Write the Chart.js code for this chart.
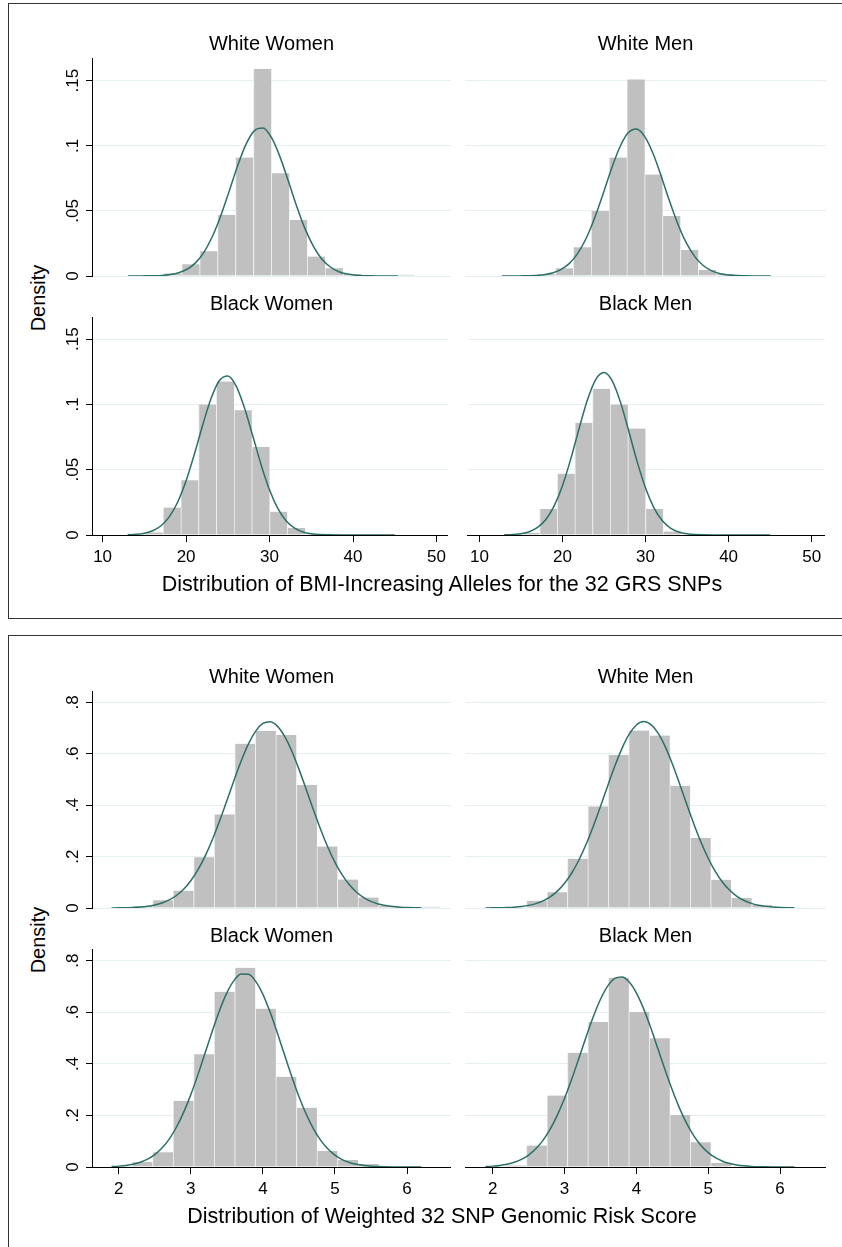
<!DOCTYPE html>
<html>
<head>
<meta charset="utf-8">
<script src="https://cdn.jsdelivr.net/npm/chart.js@4.4.0/dist/chart.umd.min.js"></script>
<style>
  body { margin: 0; width: 842px; height: 1247px; overflow: hidden; background: #fff; position: relative; font-family: "Liberation Sans", Arial, sans-serif; color: #000; }
  .box { position: absolute; border: 1px solid #333; }
  canvas { position: absolute; }
  .lbl { position: absolute; white-space: nowrap; line-height: 1; transform: translate(-50%, -50%); }
  .ttl { font-size: 20px; }
  .xt { font-size: 21.5px; }
  .yt { font-size: 20px; transform: translate(-50%, -50%) rotate(-90deg); }
</style>
</head>
<body>
<div class="box" style="left:8px; top:3px; width:900px; height:614px;"></div>
<div class="box" style="left:8px; top:635px; width:900px; height:700px;"></div>
<div id="panels"></div>
<div class="lbl yt" style="left:38px; top:298px;">Density</div>
<div class="lbl xt" style="left:442px; top:585px;">Distribution of BMI-Increasing Alleles for the 32 GRS SNPs</div>
<div class="lbl yt" style="left:38px; top:940px;">Density</div>
<div class="lbl xt" style="left:442px; top:1217px;">Distribution of Weighted 32 SNP Genomic Risk Score</div>

<script>
// Panel titles
const panelTitles = ['White Women', 'White Men', 'Black Women', 'Black Men'];

// Top figure: count of BMI-increasing alleles (bin centres, 16 bins)
const binsAlleles = [14.0625, 16.1875, 18.3125, 20.4375, 22.5625, 24.6875, 26.8125, 28.9375,
                     31.0625, 33.1875, 35.3125, 37.4375, 39.5625, 41.6875, 43.8125, 45.9375];
const xTicksAlleles = [10, 20, 30, 40, 50];
const yTicksAlleles = [0, 0.05, 0.1, 0.15];
const yLabelsAlleles = ['0', '.05', '.1', '.15'];

const whiteWomenAlleles = [0, 0, 0.002, 0.009, 0.019, 0.047, 0.091, 0.159, 0.079, 0.043, 0.015, 0.006, 0.0015, 0, 0, 0.001];
const whiteMenAlleles   = [0, 0, 0.0015, 0.006, 0.022, 0.050, 0.091, 0.151, 0.078, 0.046, 0.020, 0.0046, 0.0015, 0, 0, 0];
const blackWomenAlleles = [0.0008, 0.002, 0.021, 0.042, 0.100, 0.1175, 0.0956, 0.0675, 0.0179, 0.0054, 0.0005, 0.001, 0, 0, 0, 0];
const blackMenAlleles   = [0, 0.0018, 0.020, 0.047, 0.086, 0.112, 0.100, 0.0815, 0.020, 0.0026, 0, 0, 0, 0, 0, 0];

// normal density overlay, read at whole allele counts 13..45
const curveXAlleles = [13, 14, 15, 16, 17, 18, 19, 20, 21, 22, 23, 24, 25, 26, 27, 28, 29,
                       30, 31, 32, 33, 34, 35, 36, 37, 38, 39, 40, 41, 42, 43, 44, 45];
const normWhiteWomenAlleles = [0, 0, 0.0001, 0.0002, 0.0004, 0.0011, 0.0025, 0.0052, 0.0101, 0.0182, 0.0303,
  0.0463, 0.0652, 0.0847, 0.1013, 0.1117, 0.1136, 0.1064, 0.0919, 0.0731, 0.0536, 0.0362, 0.0226,
  0.0129, 0.0069, 0.0033, 0.0015, 0.0006, 0.0002, 0.0001, 0, 0, 0];
const normWhiteMenAlleles = [0, 0, 0, 0.0002, 0.0004, 0.0010, 0.0023, 0.0049, 0.0095, 0.0172, 0.0286,
  0.0440, 0.0623, 0.0816, 0.0985, 0.1098, 0.1129, 0.1071, 0.0939, 0.0759, 0.0566, 0.0390, 0.0248,
  0.0145, 0.0079, 0.0039, 0.0018, 0.0008, 0.0003, 0.0001, 0, 0, 0];
const normBlackWomenAlleles = [0.0002, 0.0005, 0.0014, 0.0033, 0.0071, 0.0141, 0.0253, 0.0415, 0.0621, 0.0845,
  0.1048, 0.1184, 0.1218, 0.1141, 0.0973, 0.0756, 0.0535, 0.0345, 0.0202, 0.0108, 0.0053, 0.0023,
  0.0009, 0.0003, 0.0001, 0, 0, 0, 0, 0, 0, 0, 0];
const normBlackMenAlleles = [0.0001, 0.0004, 0.0010, 0.0025, 0.0058, 0.0119, 0.0223, 0.0378, 0.0583, 0.0815,
  0.1034, 0.1191, 0.1244, 0.1179, 0.1014, 0.0791, 0.0560, 0.0360, 0.0210, 0.0111, 0.0053, 0.0023,
  0.0009, 0.0003, 0.0001, 0, 0, 0, 0, 0, 0, 0, 0];

// Bottom figure: weighted genomic risk score (bin centres, 16 bins)
const binsScore = [2.0425, 2.3275, 2.6125, 2.8975, 3.1825, 3.4675, 3.7525, 4.0375,
                   4.3225, 4.6075, 4.8925, 5.1775, 5.4625, 5.7475, 6.0325, 6.3175];
const xTicksScore = [2, 3, 4, 5, 6];
const yTicksScore = [0, 0.2, 0.4, 0.6, 0.8];
const yLabelsScore = ['0', '.2', '.4', '.6', '.8'];

const whiteWomenScore = [0, 0.0065, 0.030, 0.067, 0.197, 0.364, 0.639, 0.689, 0.673, 0.478, 0.239, 0.111, 0.041, 0.009, 0.001, 0.005];
const whiteMenScore   = [0, 0.003, 0.028, 0.061, 0.192, 0.395, 0.595, 0.690, 0.671, 0.475, 0.272, 0.110, 0.040, 0.012, 0, 0];
const blackWomenScore = [0.003, 0.019, 0.057, 0.257, 0.437, 0.679, 0.772, 0.614, 0.350, 0.230, 0.062, 0.027, 0.012, 0.001, 0.001, 0];
const blackMenScore   = [0, 0.006, 0.083, 0.277, 0.443, 0.562, 0.734, 0.601, 0.499, 0.202, 0.096, 0.016, 0.003, 0.001, 0, 0];

// normal density overlay, read every 0.1 from 1.9 to 6.2
const curveXScore = [1.9, 2.0, 2.1, 2.2, 2.3, 2.4, 2.5, 2.6, 2.7, 2.8, 2.9, 3.0, 3.1, 3.2, 3.3, 3.4, 3.5,
                     3.6, 3.7, 3.8, 3.9, 4.0, 4.1, 4.2, 4.3, 4.4, 4.5, 4.6, 4.7, 4.8, 4.9, 5.0, 5.1, 5.2,
                     5.3, 5.4, 5.5, 5.6, 5.7, 5.8, 5.9, 6.0, 6.1, 6.2];
const normWhiteWomenScore = [0.0003, 0.0006, 0.0011, 0.0021, 0.0039, 0.0069, 0.0118, 0.0196, 0.0314, 0.0487,
  0.0731, 0.1062, 0.1492, 0.2028, 0.2666, 0.3391, 0.4174, 0.4970, 0.5725, 0.6381, 0.6880, 0.7178,
  0.7244, 0.7074, 0.6682, 0.6108, 0.5401, 0.4621, 0.3825, 0.3063, 0.2373, 0.1778, 0.1290, 0.0905,
  0.0614, 0.0403, 0.0256, 0.0158, 0.0094, 0.0054, 0.0030, 0.0016, 0.0008, 0.0004];
const normWhiteMenScore = [0.0002, 0.0005, 0.0009, 0.0018, 0.0033, 0.0059, 0.0102, 0.0171, 0.0276, 0.0433,
  0.0655, 0.0960, 0.1361, 0.1867, 0.2477, 0.3181, 0.3951, 0.4749, 0.5521, 0.6210, 0.6759, 0.7117,
  0.7250, 0.7145, 0.6813, 0.6285, 0.5609, 0.4843, 0.4046, 0.3271, 0.2558, 0.1935, 0.1416, 0.1003,
  0.0687, 0.0455, 0.0292, 0.0181, 0.0109, 0.0063, 0.0036, 0.0019, 0.0010, 0.0005];
const normBlackWomenScore = [0.0018, 0.0034, 0.0062, 0.0109, 0.0185, 0.0303, 0.0480, 0.0734, 0.1083, 0.1541,
  0.2118, 0.2806, 0.3591, 0.4435, 0.5286, 0.6081, 0.6751, 0.7235, 0.7483, 0.7469, 0.7197, 0.6692,
  0.6006, 0.5202, 0.4349, 0.3509, 0.2733, 0.2054, 0.1490, 0.1043, 0.0705, 0.0460, 0.0289, 0.0176,
  0.0103, 0.0058, 0.0032, 0.0017, 0.0009, 0.0004, 0.0002, 0.0001, 0, 0];
const normBlackMenScore = [0.0018, 0.0034, 0.0062, 0.0108, 0.0181, 0.0295, 0.0463, 0.0704, 0.1033, 0.1466,
  0.2010, 0.2662, 0.3408, 0.4216, 0.5041, 0.5824, 0.6503, 0.7015, 0.7315, 0.7370, 0.7176, 0.6752,
  0.6139, 0.5395, 0.4580, 0.3759, 0.2981, 0.2283, 0.1691, 0.1210, 0.0837, 0.0559, 0.0362, 0.0225,
  0.0136, 0.0079, 0.0045, 0.0024, 0.0013, 0.0006, 0.0003, 0.0001, 0.0001, 0];

const FONT = '"Liberation Sans", Arial, sans-serif';
const BAR_GREY = '#c0c0c0';
const CURVE = '#2b6f66';
const GRID = '#e6eff1';

// vertical y tick labels, reading bottom to top like the Stata original
const rotatedYLabels = {
    id: 'rotatedYLabels',
    afterDraw(chart, args, opts) {
        if (!opts.labels) return;
        const ctx = chart.ctx;
        const yScale = chart.scales.y;
        ctx.save();
        ctx.font = '17px ' + FONT;
        ctx.fillStyle = '#000';
        ctx.textAlign = 'center';
        ctx.textBaseline = 'alphabetic';
        opts.values.forEach((v, i) => {
            ctx.save();
            ctx.translate(opts.x, yScale.getPixelForValue(v));
            ctx.rotate(-Math.PI / 2);
            ctx.fillText(opts.labels[i], 0, 0);
            ctx.restore();
        });
        ctx.restore();
    }
};

// left column: plot area 92..451, right column: 465..826
const colLeft  = { left: 50, width: 401, titleX: 271.5 };
const colRight = { left: 465, width: 361, titleX: 645.5 };

const panels = [
    // top figure
    { col: colLeft,  top: 52,  height: 228, padTop: 6.6, showX: false, titleY: 43,  title: panelTitles[0],
      xMin: 8.73, xMax: 51.3, yMax: 0.167, bins: binsAlleles, dens: whiteWomenAlleles,
      cx: curveXAlleles, cy: normWhiteWomenAlleles, xTicks: xTicksAlleles, yTicks: yTicksAlleles, yLabels: yLabelsAlleles },
    { col: colRight, top: 52,  height: 228, padTop: 6.6, showX: false, titleY: 43,  title: panelTitles[1],
      xMin: 8.6, xMax: 51.58, yMax: 0.167, bins: binsAlleles, dens: whiteMenAlleles,
      cx: curveXAlleles, cy: normWhiteMenAlleles, xTicks: xTicksAlleles, yTicks: yTicksAlleles, yLabels: null },
    { col: colLeft,  top: 311, height: 264, padTop: 6,   showX: true,  titleY: 303, title: panelTitles[2],
      xMin: 8.73, xMax: 51.3, yMax: 0.167, bins: binsAlleles, dens: blackWomenAlleles,
      cx: curveXAlleles, cy: normBlackWomenAlleles, xTicks: xTicksAlleles, yTicks: yTicksAlleles, yLabels: yLabelsAlleles },
    { col: colRight, top: 311, height: 264, padTop: 6,   showX: true,  titleY: 303, title: panelTitles[3],
      xMin: 8.6, xMax: 51.58, yMax: 0.167, bins: binsAlleles, dens: blackMenAlleles,
      cx: curveXAlleles, cy: normBlackMenAlleles, xTicks: xTicksAlleles, yTicks: yTicksAlleles, yLabels: null },
    // bottom figure
    { col: colLeft,  top: 685, height: 227, padTop: 6,   showX: false, titleY: 676, title: panelTitles[0],
      xMin: 1.629, xMax: 6.61, yMax: 0.844, bins: binsScore, dens: whiteWomenScore,
      cx: curveXScore, cy: normWhiteWomenScore, xTicks: xTicksScore, yTicks: yTicksScore, yLabels: yLabelsScore },
    { col: colRight, top: 685, height: 227, padTop: 6,   showX: false, titleY: 676, title: panelTitles[1],
      xMin: 1.614, xMax: 6.64, yMax: 0.844, bins: binsScore, dens: whiteMenScore,
      cx: curveXScore, cy: normWhiteMenScore, xTicks: xTicksScore, yTicks: yTicksScore, yLabels: null },
    { col: colLeft,  top: 943, height: 264, padTop: 6.3, showX: true,  titleY: 935, title: panelTitles[2],
      xMin: 1.629, xMax: 6.61, yMax: 0.844, bins: binsScore, dens: blackWomenScore,
      cx: curveXScore, cy: normBlackWomenScore, xTicks: xTicksScore, yTicks: yTicksScore, yLabels: yLabelsScore },
    { col: colRight, top: 943, height: 264, padTop: 6.3, showX: true,  titleY: 935, title: panelTitles[3],
      xMin: 1.614, xMax: 6.64, yMax: 0.844, bins: binsScore, dens: blackMenScore,
      cx: curveXScore, cy: normBlackMenScore, xTicks: xTicksScore, yTicks: yTicksScore, yLabels: null }
];

const holder = document.getElementById('panels');

panels.forEach(p => {
    const canvas = document.createElement('canvas');
    canvas.width = p.col.width;
    canvas.height = p.height;
    canvas.style.left = p.col.left + 'px';
    canvas.style.top = p.top + 'px';
    holder.appendChild(canvas);

    const title = document.createElement('div');
    title.className = 'lbl ttl';
    title.style.left = p.col.titleX + 'px';
    title.style.top = p.titleY + 'px';
    title.textContent = p.title;
    holder.appendChild(title);

    const isLeft = p.yLabels !== null;

    new Chart(canvas, {
        type: 'bar',
        data: {
            datasets: [
                {
                    type: 'line',
                    data: p.cx.map((x, i) => ({ x: x, y: p.cy[i] })),
                    borderColor: CURVE,
                    borderWidth: 1.5,
                    pointRadius: 0,
                    fill: false,
                    cubicInterpolationMode: 'monotone',
                    order: 0
                },
                {
                    type: 'bar',
                    data: p.bins.map((x, i) => ({ x: x, y: p.dens[i] })),
                    backgroundColor: BAR_GREY,
                    borderColor: '#eeeeee',
                    borderWidth: { left: 1, right: 0, top: 0, bottom: 0 },
                    borderSkipped: false,
                    barPercentage: 1,
                    categoryPercentage: 1,
                    order: 1
                }
            ]
        },
        options: {
            responsive: false,
            animation: false,
            events: [],
            layout: { padding: { top: p.padTop, bottom: p.showX ? 0 : 4, left: 0, right: 0 } },
            plugins: {
                legend: { display: false },
                tooltip: { enabled: false },
                rotatedYLabels: isLeft ? { values: p.yTicks, labels: p.yLabels, x: 27.5 } : {}
            },
            scales: {
                x: {
                    type: 'linear',
                    min: p.xMin,
                    max: p.xMax,
                    offset: false,
                    display: p.showX,
                    afterBuildTicks: s => { s.ticks = p.xTicks.map(v => ({ value: v })); },
                    afterFit: s => { s.height = p.showX ? 40 : 0; },
                    ticks: { font: { family: FONT, size: 17 }, color: '#000', padding: 5, maxRotation: 0, autoSkip: false },
                    grid: { offset: false, drawOnChartArea: false, drawTicks: true, tickLength: 7, tickColor: '#000', tickWidth: 1 },
                    border: { display: true, color: '#000', width: 1 }
                },
                y: {
                    min: 0,
                    max: p.yMax,
                    afterBuildTicks: s => { s.ticks = p.yTicks.map(v => ({ value: v })); },
                    afterFit: s => { s.width = isLeft ? 42 : 0; },
                    ticks: { display: false },
                    grid: { color: GRID, lineWidth: 1, drawTicks: isLeft, tickLength: 6, tickColor: '#000', tickWidth: 1 },
                    border: { display: isLeft, color: '#000', width: 1 }
                }
            }
        },
        plugins: [rotatedYLabels]
    });
});
</script>
</body>
</html>
